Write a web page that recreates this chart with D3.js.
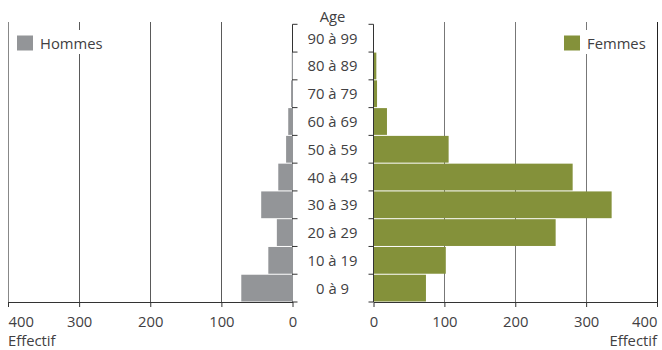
<!DOCTYPE html>
<html>
<head>
<meta charset="utf-8">
<script src="https://cdn.jsdelivr.net/npm/d3@7"></script>
<style>
  html, body { margin: 0; padding: 0; background: #fff; }
  svg { display: block; font-family: "Open Sans", Lato, sans-serif; }
  text { fill: #414042; font-size: 14.8px; }
</style>
</head>
<body>
<svg id="chart" width="662" height="350"></svg>
<script>
const categories = ["0 à 9","10 à 19","20 à 29","30 à 39","40 à 49","50 à 59","60 à 69","70 à 79","80 à 89","90 à 99"];
const hommes = [72, 34, 22, 44, 20, 9, 6, 2, 1, 0];
const femmes = [74, 102, 257, 336, 281, 106, 19, 5, 4, 0];
const xTicks = [0, 100, 200, 300, 400];
const seriesNames = ["Hommes", "Femmes"];
const axisTitle = "Age";
const valueTitle = "Effectif";

const FONT = "'Open Sans', Lato, sans-serif";
const FS = 14.8;
const svg = d3.select("#chart");
const yTop = 24.3, yBot = 302;
const y = d3.scaleBand().domain(categories).range([yBot, yTop]).padding(0);
const xL = d3.scaleLinear().domain([0, 400]).range([292.5, 8]);
const xR = d3.scaleLinear().domain([0, 400]).range([373.5, 657]);
const colH = "#939598", colF = "#84913a", gridCol = "#5a5a5a", axisCol = "#333";

// gridlines
svg.append("g").selectAll("line").data(xTicks.filter(d => d > 0)).join("line")
  .attr("x1", d => Math.round(xL(d)) + 0.5).attr("x2", d => Math.round(xL(d)) + 0.5)
  .attr("y1", 22).attr("y2", yBot).attr("stroke", d => d === 400 ? "#888" : gridCol).attr("stroke-width", 1);
svg.append("g").selectAll("line").data(xTicks.filter(d => d > 0)).join("line")
  .attr("x1", d => Math.round(xR(d)) + 0.5).attr("x2", d => Math.round(xR(d)) + 0.5)
  .attr("y1", 22).attr("y2", yBot).attr("stroke", d => d === 400 ? "#222" : "#777").attr("stroke-width", 1);

// right bars
svg.append("g").selectAll("rect").data(categories).join("rect")
  .attr("x", xR(0))
  .attr("width", (d, i) => xR(femmes[i]) - xR(0))
  .attr("y", d => y(d) + 0.5).attr("height", y.bandwidth() - 1)
  .attr("fill", colF);

// y axes with ticks at band boundaries
const bounds = categories.map(c => y(c) + y.bandwidth()).concat([yTop]);
function yAxis(x0, dir) {
  const g = svg.append("g");
  g.append("line").attr("x1", x0).attr("x2", x0).attr("y1", yTop).attr("y2", yBot)
    .attr("stroke", axisCol).attr("stroke-width", 1);
  g.selectAll("line.t").data(bounds).join("line").attr("class", "t")
    .attr("x1", x0).attr("x2", x0 + dir * 5)
    .attr("y1", d => d).attr("y2", d => d).attr("stroke", axisCol);
}
yAxis(xL(0), 1);
yAxis(xR(0), -1);
// left bars drawn over their axis line
svg.append("g").selectAll("rect").data(categories).join("rect")
  .attr("x", (d, i) => xL(hommes[i]))
  .attr("width", (d, i) => Math.max(0, xL(0) - xL(hommes[i]) + 0.5))
  .attr("y", d => y(d) + 0.5).attr("height", y.bandwidth() - 1)
  .attr("fill", colH).attr("opacity", (d, i) => hommes[i] > 0 ? 1 : 0);

// category labels
svg.append("g").selectAll("text").data(categories).join("text")
  .attr("x", 332.5).attr("y", d => y(d) + y.bandwidth() / 2 + 5.5)
  .attr("text-anchor", "middle").text(d => d);
svg.append("text").attr("x", 332.5).attr("y", 21.5).attr("text-anchor", "middle").text(axisTitle);

// x axes
const axL = d3.axisBottom(xL).tickValues(xTicks).tickSize(5).tickSizeOuter(0).tickFormat(d3.format("d"));
const axR = d3.axisBottom(xR).tickValues(xTicks).tickSize(5).tickSizeOuter(0).tickFormat(d3.format("d"));
function styleAxis(g) {
  g.select(".domain").attr("stroke", axisCol);
  g.selectAll(".tick line").attr("stroke", axisCol);
  g.selectAll(".tick text").attr("fill", "#414042").attr("font-size", FS)
    .attr("font-family", FONT).attr("dy", null).attr("y", 24.5);
}
const gL = svg.append("g").attr("transform", `translate(0,${yBot})`).call(axL).call(styleAxis);
gL.selectAll(".tick text").attr("text-anchor", d => d === 400 ? "start" : "middle");
const gR = svg.append("g").attr("transform", `translate(0,${yBot})`).call(axR).call(styleAxis);
gR.selectAll(".tick text").attr("text-anchor", d => d === 400 ? "end" : "middle");

svg.append("text").attr("x", 8).attr("y", 346).text(valueTitle);
svg.append("text").attr("x", 657).attr("y", 346).attr("text-anchor", "end").text(valueTitle);

// legends
function legend(x, name, col) {
  const g = svg.append("g");
  const t = g.append("text").attr("x", x + 23).attr("y", 49).text(name);
  const w = t.node().getComputedTextLength();
  g.insert("rect", "text").attr("x", x - 3).attr("y", 30).attr("width", w + 30).attr("height", 24).attr("fill", "#fff");
  g.insert("rect", "text").attr("x", x).attr("y", 35.5).attr("width", 16).attr("height", 15).attr("fill", col);
}
legend(17, seriesNames[0], colH);
legend(564, seriesNames[1], colF);
</script>
</body>
</html>
